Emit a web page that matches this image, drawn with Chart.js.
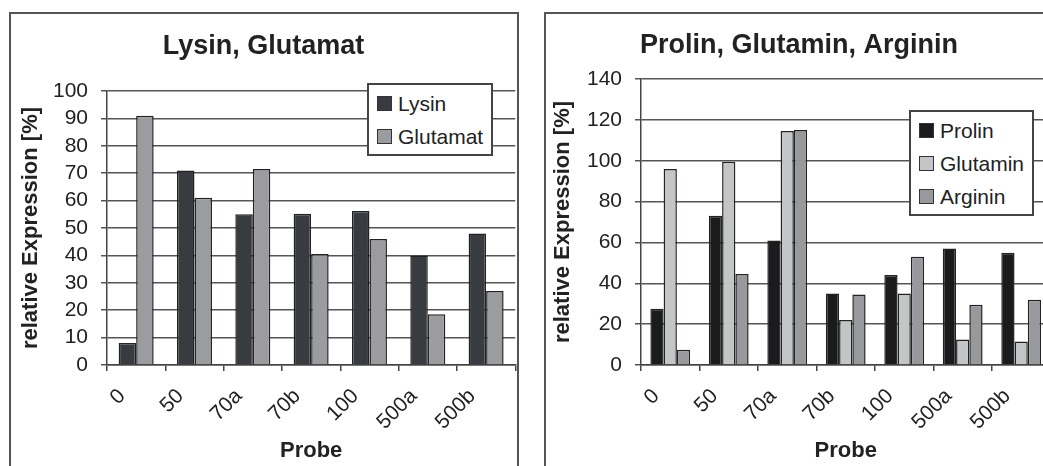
<!DOCTYPE html>
<html>
<head>
<meta charset="utf-8">
<script src="https://cdn.jsdelivr.net/npm/chart.js@4.4.1/dist/chart.umd.min.js"></script>
<style>
  html, body { margin: 0; padding: 0; background: #fff; overflow: hidden; width: 1043px; height: 466px; }
  .panel { position: absolute; top: 12px; width: 506px; height: 470px; border: 2px solid #555; background: #fff; }
  #panelLeft { left: 9px; }
  #panelRight { left: 544px; }
  .box { position: absolute; left: 0; top: 0; width: 506px; height: 460px; }
  .legend { position: absolute; background: #fff; border: 2px solid #444; padding: 2px 8px 1px 8px;
            font: 21px 'Liberation Sans', Arial, sans-serif; color: #222; }
  .legend div { height: 33px; display: flex; align-items: center; white-space: nowrap; }
  .legend span { display: inline-block; width: 15px; height: 15px; margin-right: 6px; border: 1px solid #333; box-sizing: border-box; }
  #legendLeft { left: 356px; top: 69px; }
  #legendRight { left: 363px; top: 96px; }
</style>
</head>
<body>
<div class="panel" id="panelLeft">
  <div class="box"><canvas id="chartLeft"></canvas></div>
  <div class="legend" id="legendLeft"></div>
</div>
<div class="panel" id="panelRight">
  <div class="box"><canvas id="chartRight"></canvas></div>
  <div class="legend" id="legendRight"></div>
</div>
<script>
// Probe labels shared by both panels
const probes = ['0', '50', '70a', '70b', '100', '500a', '500b'];

// left panel: Lysin, Glutamat
const lysin    = [8, 71, 55, 55.2, 56.2, 40, 48];
const glutamat = [91, 61, 71.5, 40.5, 46, 18.5, 27];

// right panel: Prolin, Glutamin, Arginin
const prolin   = [27.5, 73, 61, 35, 44, 57, 55];
const glutamin = [96, 99.5, 114.5, 22, 35, 12.5, 11.5];
const arginin  = [7.5, 44.5, 115, 34.5, 53, 29.5, 32];

Chart.defaults.font.family = "'Liberation Sans', Arial, sans-serif";
Chart.defaults.color = '#222';

const CANVAS_H = 460;

function buildChart(id, cfg) {
    return new Chart(document.getElementById(id), {
        type: 'bar',
        data: { labels: probes, datasets: cfg.datasets },
        options: {
            responsive: true,
            maintainAspectRatio: false,
            animation: false,
            layout: { padding: { left: 0, right: cfg.padRight, top: 0, bottom: 0 } },
            datasets: {
                bar: {
                    barPercentage: 1,
                    categoryPercentage: cfg.groupWidth,
                    borderWidth: 1.5,
                    borderColor: '#222'
                }
            },
            plugins: {
                legend: { display: false },
                tooltip: { enabled: false },
                title: {
                    display: true,
                    text: cfg.title,
                    color: '#222',
                    font: { size: 27, weight: 'bold' },
                    padding: cfg.titlePadding
                }
            },
            scales: {
                x: {
                    grid: { drawOnChartArea: false, tickLength: 6, color: '#444', lineWidth: 1.5 },
                    border: { color: '#444', width: 1.5 },
                    ticks: {
                        autoSkip: false,
                        minRotation: 45,
                        maxRotation: 45,
                        labelOffset: -14,
                        padding: 13,
                        color: '#222',
                        font: { size: 21 }
                    },
                    title: {
                        display: true,
                        text: 'Probe',
                        color: '#222',
                        font: { size: 22, weight: 'bold' },
                        padding: { top: 0, bottom: 10 }
                    },
                    afterFit: (s) => { s.height = CANVAS_H - cfg.plotBottom; }
                },
                y: {
                    min: 0,
                    max: cfg.yMax,
                    ticks: { stepSize: cfg.yStep, autoSkip: false, padding: 13, color: '#222', font: { size: 21 } },
                    grid: { color: '#555', lineWidth: 1.5, tickLength: 6 },
                    border: { color: '#444', width: 1.5 },
                    title: {
                        display: true,
                        text: 'relative Expression [%]',
                        color: '#222',
                        font: { size: 22, weight: 'bold' },
                        padding: { top: cfg.yTitlePad, bottom: 0 }
                    },
                    afterFit: (s) => { s.width = cfg.plotLeft; }
                }
            }
        }
    });
}

function buildLegend(id, chart) {
    const el = document.getElementById(id);
    chart.data.datasets.forEach(ds => {
        const row = document.createElement('div');
        const sw = document.createElement('span');
        sw.style.background = ds.backgroundColor;
        row.appendChild(sw);
        row.appendChild(document.createTextNode(ds.label));
        el.appendChild(row);
    });
}

const left = buildChart('chartLeft', {
    title: 'Lysin, Glutamat',
    titlePadding: { top: 16.5, bottom: 28.1 },
    yMax: 100,
    yStep: 10,
    yTitlePad: 7,
    plotLeft: 96,
    plotBottom: 351,
    padRight: 1,
    groupWidth: 0.6,
    datasets: [
        { label: 'Lysin', data: lysin, backgroundColor: '#383b3f' },
        { label: 'Glutamat', data: glutamat, backgroundColor: '#9a9c9f' }
    ]
});

const right = buildChart('chartRight', {
    title: 'Prolin, Glutamin, Arginin',
    titlePadding: { top: 15.5, bottom: 17.1 },
    yMax: 140,
    yStep: 20,
    yTitlePad: 4,
    plotLeft: 95,
    plotBottom: 351,
    padRight: 0,
    groupWidth: 0.68,
    datasets: [
        { label: 'Prolin', data: prolin, backgroundColor: '#1a1b1d' },
        { label: 'Glutamin', data: glutamin, backgroundColor: '#c4c5c7' },
        { label: 'Arginin', data: arginin, backgroundColor: '#97999c' }
    ]
});

buildLegend('legendLeft', left);
buildLegend('legendRight', right);
</script>
</body>
</html>
